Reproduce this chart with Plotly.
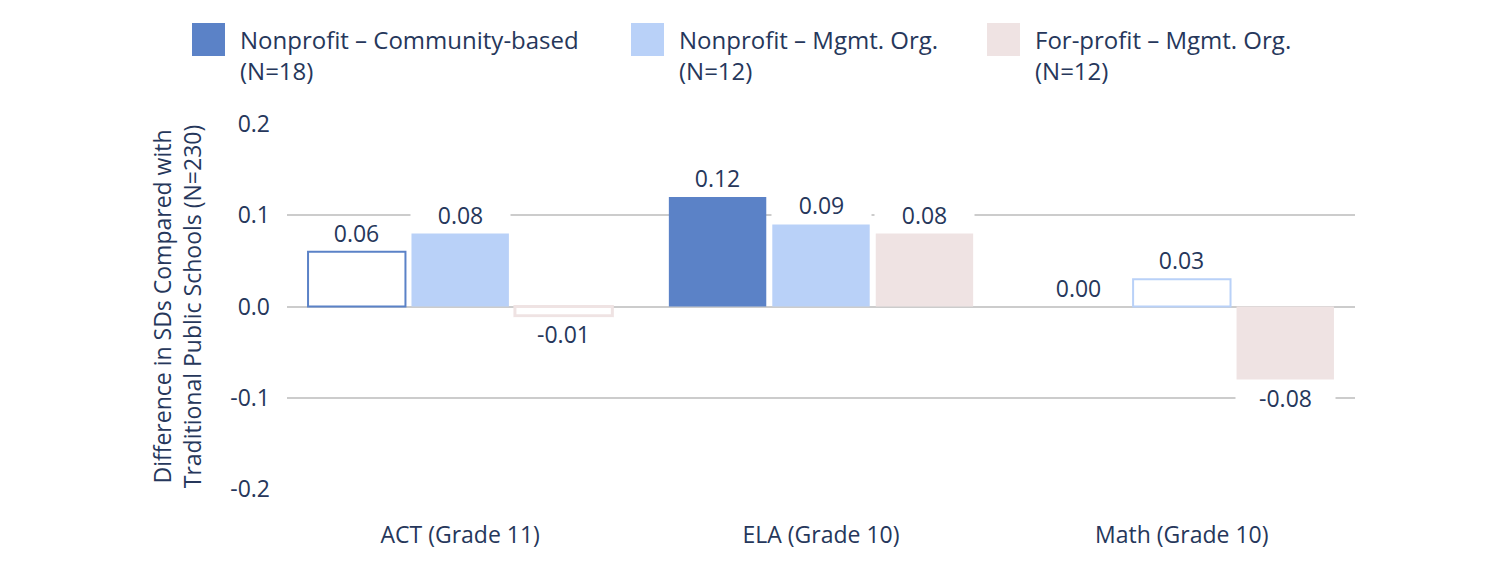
import plotly.graph_objects as go

categories = ["ACT (Grade 11)", "ELA (Grade 10)", "Math (Grade 10)"]
series_names = ["Nonprofit – Community-based<br>(N=18)",
                "Nonprofit – Mgmt. Org.<br>(N=12)",
                "For-profit – Mgmt. Org.<br>(N=12)"]
community_vals = [0.06, 0.12, 0.00]
mgmt_vals = [0.08, 0.09, 0.03]
forprofit_vals = [-0.01, 0.08, -0.08]
# True = statistically significant (filled bar); False = outlined bar
community_sig = [False, True, False]
mgmt_sig = [True, True, False]
forprofit_sig = [False, True, True]
y_ticks = [-0.2, -0.1, 0.0, 0.1, 0.2]

colors = ["#5b82c7", "#b9d1f8", "#efe3e3"]
line_widths = [2, 2, 3]
TEXT = "#26375b"
FONT = "Open Sans"

all_vals = [community_vals, mgmt_vals, forprofit_vals]
all_sig = [community_sig, mgmt_sig, forprofit_sig]

xs = list(range(len(categories)))
slot = 0.2867
bar_w = 0.270
group_half = (2 * slot + bar_w) / 2

W, H = 1494, 574
ml, mr, mt, mb = 287, 139, 124, 85
pw, ph = W - ml - mr, H - mt - mb

fig = go.Figure()
annotations = []
for k, (vals, sig) in enumerate(zip(all_vals, all_sig)):
    offset = -group_half + k * slot
    fills = [colors[k] if s else "white" for s in sig]
    lw = [0 if (s or v == 0) else line_widths[k] for s, v in zip(sig, vals)]
    fig.add_trace(go.Bar(
        x=xs, y=vals, offset=offset, width=bar_w,
        marker=dict(color=fills, line=dict(color=colors[k], width=lw)),
        showlegend=False, hoverinfo="skip"))
    for i, v in enumerate(vals):
        annotations.append(dict(
            x=i + offset + bar_w / 2, y=v, xref="x", yref="y",
            text=f"{v:.2f}", showarrow=False,
            yanchor="bottom" if v >= 0 else "top",
            yshift=2 if v >= 0 else -1,
            bgcolor="white", width=97, height=30,
            font=dict(family=FONT, size=23, color=TEXT)))

def px_x(p):
    return (p - ml) / pw
def px_y(p):
    return 1 - (p - mt) / ph

shapes = []
legend_x = [192, 631, 987]
for k, lx in enumerate(legend_x):
    shapes.append(dict(type="rect", xref="paper", yref="paper",
                       x0=px_x(lx), x1=px_x(lx + 33), y0=px_y(56), y1=px_y(23),
                       fillcolor=colors[k], line=dict(width=0)))
    annotations.append(dict(xref="paper", yref="paper", x=px_x(lx + 46), y=px_y(21),
                            xanchor="left", yanchor="top", align="left",
                            text=series_names[k], showarrow=False,
                            font=dict(family=FONT, size=24, color=TEXT)))

fig.update_layout(
    width=W, height=H,
    margin=dict(l=ml, r=mr, t=mt, b=mb),
    paper_bgcolor="white", plot_bgcolor="white",
    font=dict(family=FONT, color=TEXT),
    shapes=shapes, annotations=annotations,
    xaxis=dict(range=[-0.48, 2.48], tickvals=xs, ticktext=categories,
               showgrid=False, zeroline=False, showline=False,
               ticks="", ticklabelstandoff=30,
               tickfont=dict(family=FONT, size=23, color=TEXT)),
    yaxis=dict(range=[-0.2, 0.2], tickvals=y_ticks,
               ticktext=[f"{t:.1f}" for t in y_ticks],
               showgrid=True, gridcolor="#cccccc", gridwidth=1.5,
               zeroline=False, showline=False, ticks="",
               ticklabelstandoff=16,
               tickfont=dict(family=FONT, size=23, color=TEXT),
               title=dict(text="Difference in SDs Compared with<br>Traditional Public Schools (N=230)",
                          font=dict(family=FONT, size=23, color=TEXT), standoff=22)),
)

fig.write_html("out.html")
